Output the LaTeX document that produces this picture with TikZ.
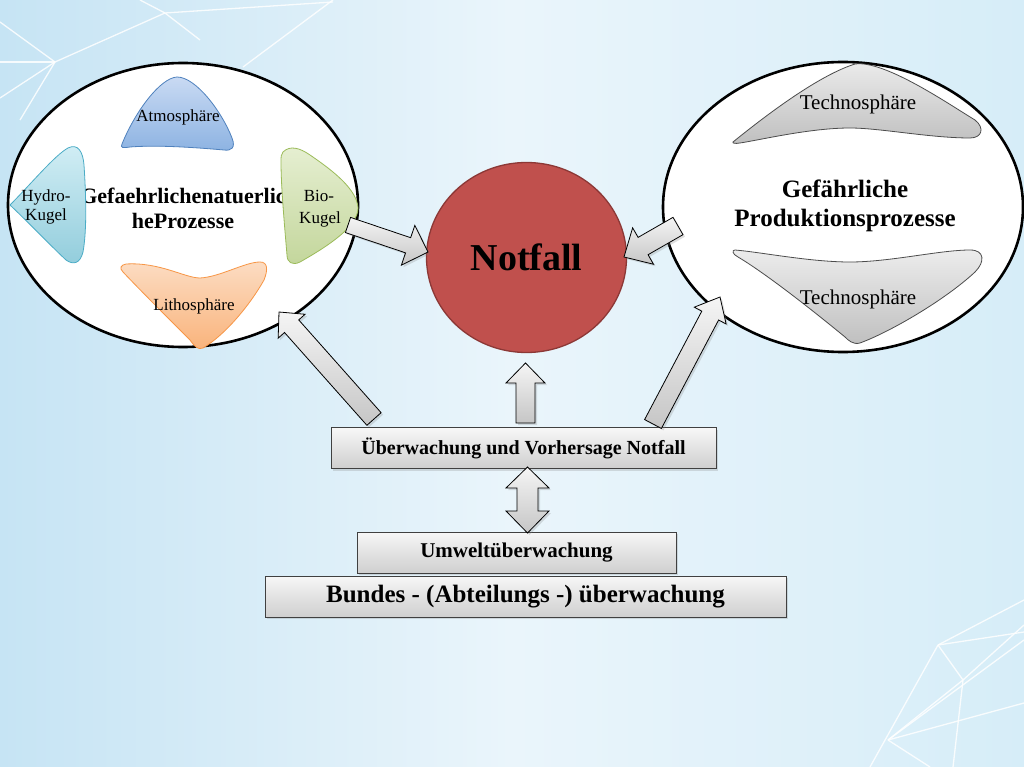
\documentclass[tikz,border=0pt]{standalone}
\usepackage{fontspec}
\setmainfont{Liberation Serif}
\usetikzlibrary{calc,shadows,shapes.geometric}
\definecolor{bgl}{HTML}{C6E4F4}
\definecolor{bgm}{HTML}{EAF5FB}
\definecolor{bgr}{HTML}{D6EDF8}
\definecolor{notred}{HTML}{C0504D}
\definecolor{notborder}{HTML}{8C3836}
\definecolor{atmtop}{HTML}{C9DAF3}
\definecolor{atmbot}{HTML}{8DB3E2}
\definecolor{atmline}{HTML}{4F81BD}
\definecolor{hydtop}{HTML}{D2EEF5}
\definecolor{hydbot}{HTML}{92CDDC}
\definecolor{hydline}{HTML}{4BACC6}
\definecolor{biotop}{HTML}{E6EFD2}
\definecolor{biobot}{HTML}{C3D69B}
\definecolor{bioline}{HTML}{9BBB59}
\definecolor{littop}{HTML}{FCDCC2}
\definecolor{litbot}{HTML}{F9B37B}
\definecolor{litline}{HTML}{F79646}
\tikzset{
  bigell/.style={ellipse, draw=black, line width=2.6pt, fill=white, inner sep=0pt},
  notfallnode/.style={ellipse, draw=notborder, line width=1.3pt, fill=notred, inner sep=0pt,
    minimum width=200pt, minimum height=190pt, font=\fontsize{38}{44}\selectfont\bfseries},
  graybox/.style={rectangle, draw=black!75, line width=0.8pt, top color=gray!6, bottom color=gray!38,
    inner sep=0pt, drop shadow={opacity=0.25, shadow xshift=2pt, shadow yshift=-2pt}},
  barrow/.style={draw=black, line width=0.8pt, line join=miter, top color=gray!8, bottom color=gray!45,
    drop shadow={opacity=0.25, shadow xshift=2pt, shadow yshift=-2pt}},
  blob/.style={line width=0.8pt},
  smalllbl/.style={font=\fontsize{17}{19}\selectfont, inner sep=0pt, anchor=base},
  techlbl/.style={font=\fontsize{21}{24}\selectfont, inner sep=0pt, anchor=base},
  bgline/.style={white, line width=1.3pt, opacity=0.85}
}
\newcommand{\blockarr}[5]{%
  \coordinate (hb) at ($(#2)!#5!(#1)$);
  \draw[barrow] ($(#1)!#3!90:(#2)$) -- ($(hb)!#3!90:(#2)$) -- ($(hb)!#4!90:(#2)$) -- (#2)
     -- ($(hb)!#4!-90:(#2)$) -- ($(hb)!#3!-90:(#2)$) -- ($(#1)!#3!-90:(#2)$) -- cycle;
}
\begin{document}
\begin{tikzpicture}[x=1pt,y=-1pt]
\useasboundingbox (0,0) rectangle (1024,767);
% background
\fill[left color=bgl, right color=bgr, middle color=bgm] (0,0) rectangle (1024,767);
% background lines top-left
\draw[bgline] (0,22) -- (55,62) -- (165,13) -- (333,2);
\draw[bgline] (140,0) -- (165,13) -- (200,40);
\draw[bgline] (55,62) -- (0,98);
\draw[bgline] (55,62) -- (20,120);
\draw[bgline] (243,67) -- (333,0);
\draw[bgline] (0,62) -- (55,62);
% background lines bottom-right
\draw[bgline] (938,645) -- (1024,600);
\draw[bgline] (938,645) -- (1024,632);
\draw[bgline] (938,645) -- (963,680);
\draw[bgline] (938,645) -- (870,767);
\draw[bgline] (963,680) -- (888,740);
\draw[bgline] (963,680) -- (953,767);
\draw[bgline] (963,680) -- (1024,625);
\draw[bgline] (888,740) -- (1024,703);
\draw[bgline] (888,740) -- (1024,640);
\draw[bgline] (888,740) -- (930,767);

% left ellipse
\node[bigell, minimum width=350pt, minimum height=284pt] (nat) at (183,205) {};
\node[font=\fontsize{22}{25}\selectfont\bfseries, align=center, inner sep=0pt] (nattext) at (183,208)
  {Gefaehrlichenatuerlic\\heProzesse};
% Atmosphaere
\draw[blob, draw=atmline, top color=atmtop, bottom color=atmbot]
  (122,144) .. controls (135,112) and (160,78) .. (177,77)
  .. controls (196,77) and (222,112) .. (232,138)
  .. controls (236,148) and (231,151) .. (224,150)
  .. controls (190,147) and (155,145) .. (130,147)
  .. controls (123,148) and (120,148) .. cycle;
\node[smalllbl] (atm) at (178,122) {Atmosphäre};
% Hydro
\draw[blob, draw=hydline, top color=hydtop, bottom color=hydbot]
  (10,205) .. controls (30,185) and (55,155) .. (68,148)
  .. controls (78,143) and (83,152) .. (84,165)
  .. controls (86,195) and (87,230) .. (83,252)
  .. controls (80,264) and (73,265) .. (66,260)
  .. controls (50,245) and (28,222) .. cycle;
\node[smalllbl] (hyd1) at (46,202) {Hydro-};
\node[smalllbl] (hyd2) at (46,221) {Kugel};
% Bio
\draw[blob, draw=bioline, top color=biotop, bottom color=biobot]
  (283,152) .. controls (290,145) and (300,148) .. (310,155)
  .. controls (335,172) and (357,190) .. (358,208)
  .. controls (358,226) and (330,245) .. (300,262)
  .. controls (292,266) and (287,262) .. (287,255)
  .. controls (284,220) and (281,185) .. (281,162)
  .. controls (281,157) and (281,154) .. cycle;
\node[smalllbl] (bio1) at (319,202) {Bio-};
\node[smalllbl] (bio2) at (320,223) {Kugel};
% Litho
\draw[blob, draw=litline, top color=littop, bottom color=litbot]
  (126,264) .. controls (160,262) and (185,278) .. (200,278)
  .. controls (220,277) and (245,262) .. (260,262)
  .. controls (268,262) and (268,270) .. (264,280)
  .. controls (250,305) and (225,335) .. (203,348)
  .. controls (198,350) and (195,347) .. (190,340)
  .. controls (165,315) and (140,290) .. (123,272)
  .. controls (119,268) and (121,265) .. cycle;
\node[smalllbl] (lit) at (194,310) {Lithosphäre};

% right ellipse
\node[bigell, minimum width=360pt, minimum height=290pt] (prod) at (843,207) {};
\draw[blob, draw=black!70, top color=gray!15, bottom color=gray!50]
  (733,142) .. controls (770,112) and (820,75) .. (855,64)
  .. controls (885,60) and (950,105) .. (975,120)
  .. controls (985,128) and (982,138) .. (970,138)
  .. controls (930,138) and (880,128) .. (850,128)
  .. controls (810,128) and (760,140) .. (740,143)
  .. controls (735,144) and (732,143) .. cycle;
\node[techlbl] (tech1) at (858,110) {Technosphäre};
\draw[blob, draw=black!70, top color=gray!15, bottom color=gray!50]
  (735,250) .. controls (760,252) and (810,262) .. (850,262)
  .. controls (890,262) and (940,250) .. (970,250)
  .. controls (985,250) and (985,262) .. (975,272)
  .. controls (945,300) and (890,332) .. (860,343)
  .. controls (853,345) and (848,340) .. (845,337)
  .. controls (800,300) and (760,270) .. (738,257)
  .. controls (732,254) and (732,250) .. cycle;
\node[techlbl] (tech2) at (858,304) {Technosphäre};
\node[font=\fontsize{25}{29}\selectfont\bfseries, align=center, inner sep=0pt] (prodtext) at (845,206)
  {Gefährliche\\Produktionsprozesse};

% Notfall
\node[notfallnode] (notfall) at (526.5,257.5) {Notfall};

% boxes
\node[graybox, minimum width=385pt, minimum height=41pt, font=\fontsize{20}{24}\selectfont\bfseries]
  (ueber) at (523.5,448) {Überwachung und Vorhersage Notfall};
\node[graybox, minimum width=319pt, minimum height=41pt, font=\fontsize{21}{24}\selectfont\bfseries]
  (umwelt) at (516.5,552.5) {Umweltüberwachung};
\node[graybox, minimum width=521pt, minimum height=41pt, font=\fontsize{25}{28}\selectfont\bfseries]
  (bund) at (525.5,596.5) {Bundes - (Abteilungs -) überwachung};

% block arrows
\coordinate (a1s) at (348,225);  \coordinate (a1t) at (428,252);
\blockarr{a1s}{a1t}{8pt}{21pt}{21pt}
\coordinate (a2s) at (678,226);  \coordinate (a2t) at (624,257);
\blockarr{a2s}{a2t}{10pt}{21pt}{22pt}
\coordinate (a3s) at (374,419);  \coordinate (a3t) at (279,312);
\blockarr{a3s}{a3t}{9.5pt}{18pt}{19pt}
\coordinate (a4s) at (653,424);  \coordinate (a4t) at (720,297);
\blockarr{a4s}{a4t}{9.5pt}{18pt}{21pt}
\coordinate (a5s) at (525.5,423); \coordinate (a5t) at (525.5,363);
\blockarr{a5s}{a5t}{9.5pt}{19.5pt}{20pt}
% double arrow
\coordinate (d1) at (527.5,467); \coordinate (d2) at (527.5,533);
\draw[barrow] (d1) -- ++(21.5,21) -- ++(-11,0) -- ++(0,23) -- ++(11,0) -- (d2)
  -- ++(-21.5,-22) -- ++(11,0) -- ++(0,-23) -- ++(-11,0) -- cycle;
\end{tikzpicture}
\end{document}
